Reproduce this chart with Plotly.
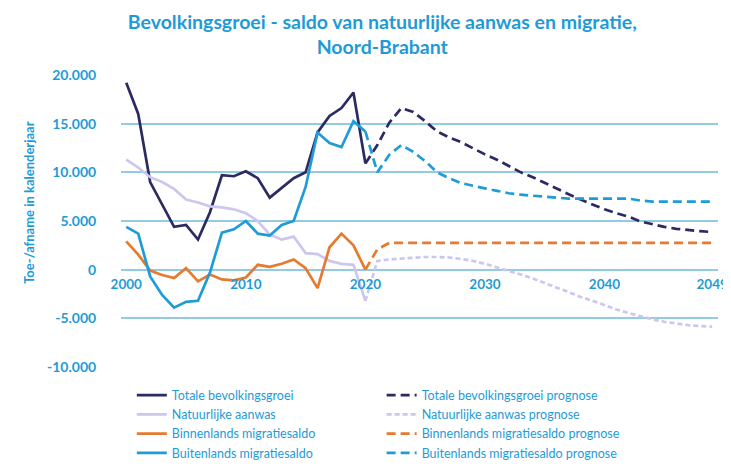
import plotly.graph_objects as go

years_hist = list(range(2000, 2021))
years_prog = list(range(2020, 2050))

totale = [19200, 16000, 9000, 6700, 4400, 4600, 3100, 5900, 9700, 9600, 10100,
          9400, 7400, 8400, 9400, 10000, 14100, 15800, 16600, 18200, 10900]
natuurlijk = [11300, 10500, 9500, 9000, 8300, 7200, 6900, 6500, 6400, 6200, 5800,
              5000, 3600, 3100, 3400, 1700, 1600, 900, 600, 500, -3200]
binnenlands = [2900, 1550, -100, -550, -850, 150, -1200, -500, -1000, -1100, -800,
               500, 300, 600, 1050, 150, -1900, 2300, 3700, 2500, 0]
buitenlands = [4400, 3700, -700, -2600, -3900, -3300, -3200, -300, 3800, 4150, 5000,
               3700, 3500, 4600, 5000, 8500, 14100, 13000, 12600, 15250, 14200]

totale_prog = [10900, 12800, 15100, 16600, 16200, 15250, 14200, 13600, 13100, 12450,
               11850, 11300, 10650, 10000, 9500, 8900, 8350, 7750, 7200, 6700,
               6200, 5800, 5450, 4950, 4650, 4400, 4200, 4050, 3950, 3870]
natuurlijk_prog = [-3200, 900, 1050, 1150, 1250, 1300, 1300, 1250, 1100, 900,
                   600, 250, -100, -500, -900, -1400, -1850, -2300, -2800, -3200,
                   -3650, -4100, -4450, -4800, -5100, -5350, -5550, -5700, -5800, -5850]
binnenlands_prog = [0, 2100] + [2750] * 28
buitenlands_prog = [14200, 10000, 11800, 12800, 12100, 11150, 10000, 9400, 8900, 8600,
                    8350, 8100, 7850, 7700, 7600, 7500, 7400, 7300, 7300, 7300,
                    7300, 7300, 7300, 7100, 7000, 7000, 7000, 7000, 7000, 7000]

names = ["Totale bevolkingsgroei", "Natuurlijke aanwas",
         "Binnenlands migratiesaldo", "Buitenlands migratiesaldo"]
colors = ["#2c2a62", "#cdc6ee", "#e67a2e", "#1f9cd8"]

x_tickvals = [2000, 2010, 2020, 2030, 2040, 2049]
x_ticktext = ["2000", "2010", "2020", "2030", "2040", "2049"]
y_tickvals = [-10000, -5000, 0, 5000, 10000, 15000, 20000]
y_ticktext = ["-10.000", "-5.000", "0", "5.000", "10.000", "15.000", "20.000"]

TXT = "#1e9bd7"
FONT = "Lato"

fig = go.Figure()
hist = [totale, natuurlijk, binnenlands, buitenlands]
prog = [totale_prog, natuurlijk_prog, binnenlands_prog, buitenlands_prog]
dashes = ["9px,5px", "5px,3px", "9px,5px", "9px,5px"]

for i in range(4):
    fig.add_trace(go.Scatter(x=years_hist, y=hist[i], mode="lines", name=names[i],
                             line=dict(color=colors[i], width=2.7), legend="legend"))
for i in range(4):
    fig.add_trace(go.Scatter(x=years_prog, y=prog[i], mode="lines",
                             name=names[i] + " prognose",
                             line=dict(color=colors[i], width=2.7, dash=dashes[i]),
                             legend="legend2"))

fig.update_layout(
    width=731, height=470,
    margin=dict(l=113, r=11, t=67, b=98),
    paper_bgcolor="white", plot_bgcolor="white",
    font=dict(family=FONT, color=TXT, size=12),
    title=dict(text="<b>Bevolkingsgroei - saldo van natuurlijke aanwas en migratie,<br>Noord-Brabant</b>",
               x=0.512, xanchor="center", y=1 - 21 / 470, yanchor="top",
               font=dict(family=FONT, size=19.5, color=TXT)),
    xaxis=dict(range=[1999.56, 2049.49], tickvals=x_tickvals, ticktext=x_ticktext,
               showgrid=False, zeroline=False, showline=False,
               anchor="free", position=1 / 3,
               ticks="outside", ticklen=2, tickcolor="rgba(0,0,0,0)",
               tickfont=dict(family=FONT, size=13.5, color=TXT, weight="bold")),
    yaxis=dict(range=[-10000, 20000], tickvals=y_tickvals, ticktext=y_ticktext,
               showgrid=True, gridcolor="#93cbe3", gridwidth=1.6, zeroline=False,
               showline=False, domain=[0, 1],
               ticks="outside", ticklen=21, tickcolor="rgba(0,0,0,0)",
               tickfont=dict(family=FONT, size=14, color=TXT, weight="bold")),
    legend=dict(x=(124 - 113) / 607, y=(372 - 386) / 305, xanchor="left", yanchor="top",
                bgcolor="rgba(0,0,0,0)", font=dict(family=FONT, size=12.5, color=TXT),
                tracegroupgap=0),
    legend2=dict(x=(378 - 113) / 607, y=(372 - 386) / 305, xanchor="left", yanchor="top",
                 bgcolor="rgba(0,0,0,0)", font=dict(family=FONT, size=12.5, color=TXT),
                 tracegroupgap=0),
    showlegend=True,
)

fig.add_annotation(text="<b>Toe-/afname in kalenderjaar</b>", textangle=-90,
                   xref="paper", yref="paper", x=(20 - 113) / 607, y=(372 - 200) / 305,
                   xanchor="center", yanchor="middle", showarrow=False,
                   font=dict(family=FONT, size=13, color=TXT))

fig.write_html("out.html")
